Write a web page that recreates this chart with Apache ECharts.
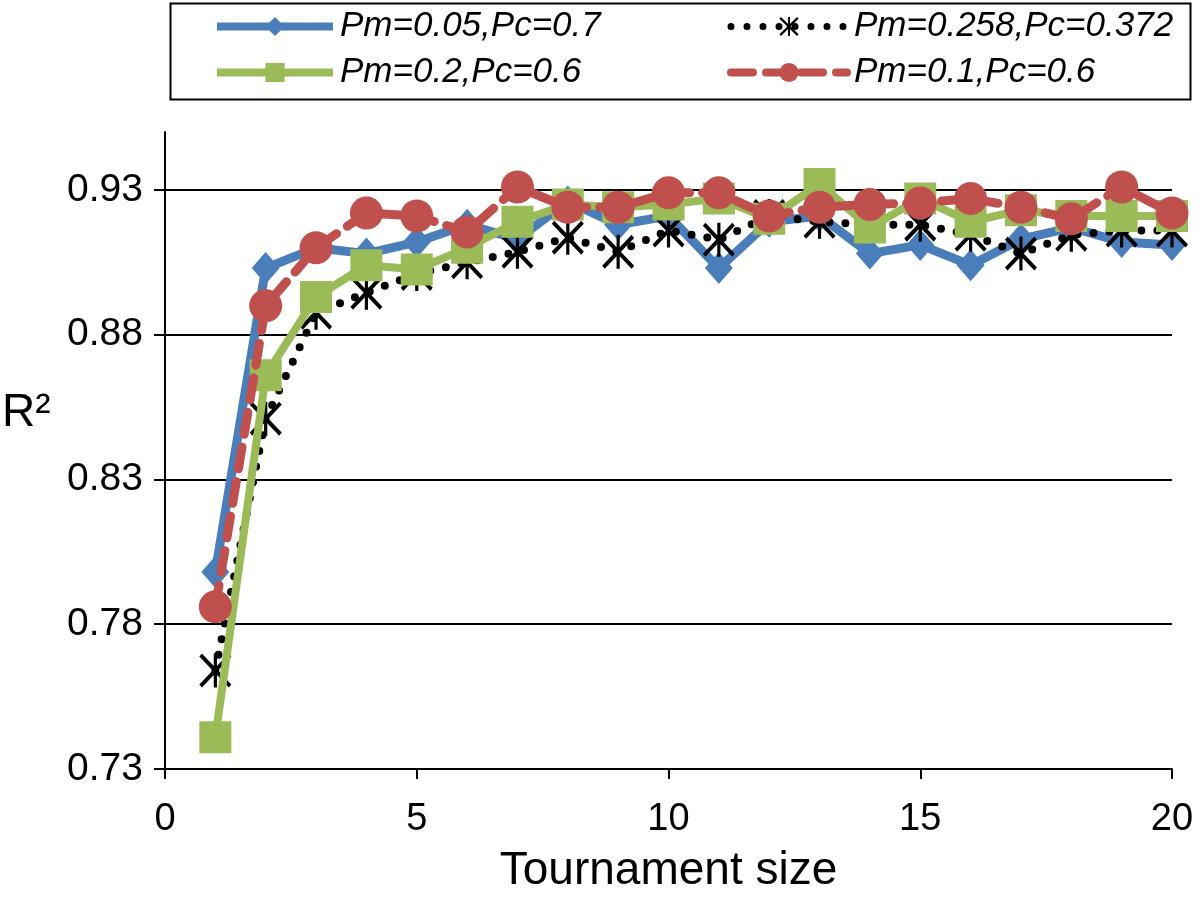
<!DOCTYPE html>
<html>
<head>
<meta charset="utf-8">
<script src="https://cdn.jsdelivr.net/npm/echarts@6/dist/echarts.min.js"></script>
<style>html,body{margin:0;padding:0;background:#fff}#c{width:1200px;height:899px}</style>
</head>
<body>
<div id="c"></div>
<script>
var sizes = [1,2,3,4,5,6,7,8,9,10,11,12,13,14,15,16,17,18,19,20];
var seriesNames = ['Pm=0.05,Pc=0.7','Pm=0.258,Pc=0.372','Pm=0.2,Pc=0.6','Pm=0.1,Pc=0.6'];
var blueVals  = [0.798,0.903,0.910,0.908,0.912,0.918,0.913,0.926,0.918,0.921,0.903,0.919,0.921,0.908,0.911,0.904,0.913,0.917,0.912,0.911];
var blackVals = [0.764,0.851,0.8876,0.8945,0.901,0.905,0.9086,0.9135,0.9086,0.916,0.9128,0.921,0.919,0.918,0.918,0.9145,0.908,0.9145,0.916,0.916];
var greenVals = [0.741,0.866,0.893,0.904,0.9025,0.910,0.919,0.925,0.924,0.925,0.927,0.920,0.932,0.917,0.927,0.919,0.923,0.921,0.921,0.921];
var redVals   = [0.786,0.890,0.910,0.922,0.921,0.9155,0.931,0.924,0.924,0.929,0.929,0.921,0.924,0.925,0.9255,0.927,0.924,0.920,0.931,0.922];
var yTicks = [0.73,0.78,0.83,0.88,0.93];

function pairs(v){ return sizes.map(function(s,i){ return [s, v[i]]; }); }

var asterisk = 'path://M45 0 L55 0 L55 100 L45 100 Z M0 9 L8 0 L100 91 L92 100 Z M92 0 L100 9 L8 100 L0 91 Z';
var font = 'Liberation Sans, Arial, Helvetica, sans-serif';
var blue = '#4A7EBB', green = '#9BBB59', red = '#C0504D';
var legendText = {fontFamily:font, fontSize:35, fontStyle:'italic', color:'#000', padding:[0,0,0,2]};

var chart = echarts.init(document.getElementById('c'), null, {renderer:'canvas'});
chart.setOption({
  animation: false,
  backgroundColor: '#fff',
  grid: {left:165, right:28, top:132, bottom:129, containLabel:false},
  xAxis: {
    type:'value', min:0, max:20, interval:5,
    name:'Tournament size', nameLocation:'middle', nameGap:79,
    nameTextStyle:{fontFamily:font, fontSize:46, color:'#000'},
    axisLine:{show:true, lineStyle:{color:'#000', width:2}},
    axisTick:{show:true, inside:false, length:10, lineStyle:{color:'#000', width:2}},
    axisLabel:{fontFamily:font, fontSize:38, color:'#000', margin:32},
    splitLine:{show:false}
  },
  yAxis: {
    type:'value', min:0.73, max:0.95, interval:0.05,
    axisLine:{show:true, lineStyle:{color:'#000', width:2}},
    axisTick:{show:true, inside:false, length:11, lineStyle:{color:'#000', width:2}, customValues: yTicks},
    axisLabel:{fontFamily:font, fontSize:39, color:'#000', margin:22, customValues: yTicks,
      formatter:function(v){ return v.toFixed(2); }},
    splitLine:{show:true, lineStyle:{color:'#000', width:2}}
  },
  legend: [
    {data:[{name:seriesNames[0], lineStyle:{width:8}},
           {name:seriesNames[2], lineStyle:{width:8}}],
     orient:'vertical', left:213, top:9, padding:0, itemWidth:116, itemHeight:24, itemGap:11, textStyle:legendText},
    {data:[{name:seriesNames[1], lineStyle:{width:7}},
           {name:seriesNames[3], lineStyle:{width:8}}],
     orient:'vertical', left:727, top:9, padding:0, itemWidth:116, itemHeight:24, itemGap:11, textStyle:legendText}
  ],
  graphic: [
    {type:'rect', left:168, top:1, shape:{width:1020, height:96}, style:{fill:'none', stroke:'#000', lineWidth:2}, z:-1},
    {type:'text', left:2, top:390, style:{text:'R²', font:'46px '+font, fill:'#000'}}
  ],
  series: [
    {name:seriesNames[0], type:'line', data:pairs(blueVals), symbol:'diamond', symbolSize:[28,32],
     lineStyle:{color:blue, width:9}, itemStyle:{color:blue}, z:2},
    {name:seriesNames[1], type:'line', data:pairs(blackVals), symbol:asterisk, symbolSize:[32,34],
     lineStyle:{color:'#000', width:8, type:[0,16], cap:'round'}, itemStyle:{color:'#000'}, z:3},
    {name:seriesNames[2], type:'line', data:pairs(greenVals), symbol:'rect', symbolSize:32,
     lineStyle:{color:green, width:8}, itemStyle:{color:green}, z:4},
    {name:seriesNames[3], type:'line', data:pairs(redVals), symbol:'circle', symbolSize:33,
     lineStyle:{color:red, width:9, type:[22,13], cap:'round'}, itemStyle:{color:red}, z:5}
  ]
});
</script>
</body>
</html>
